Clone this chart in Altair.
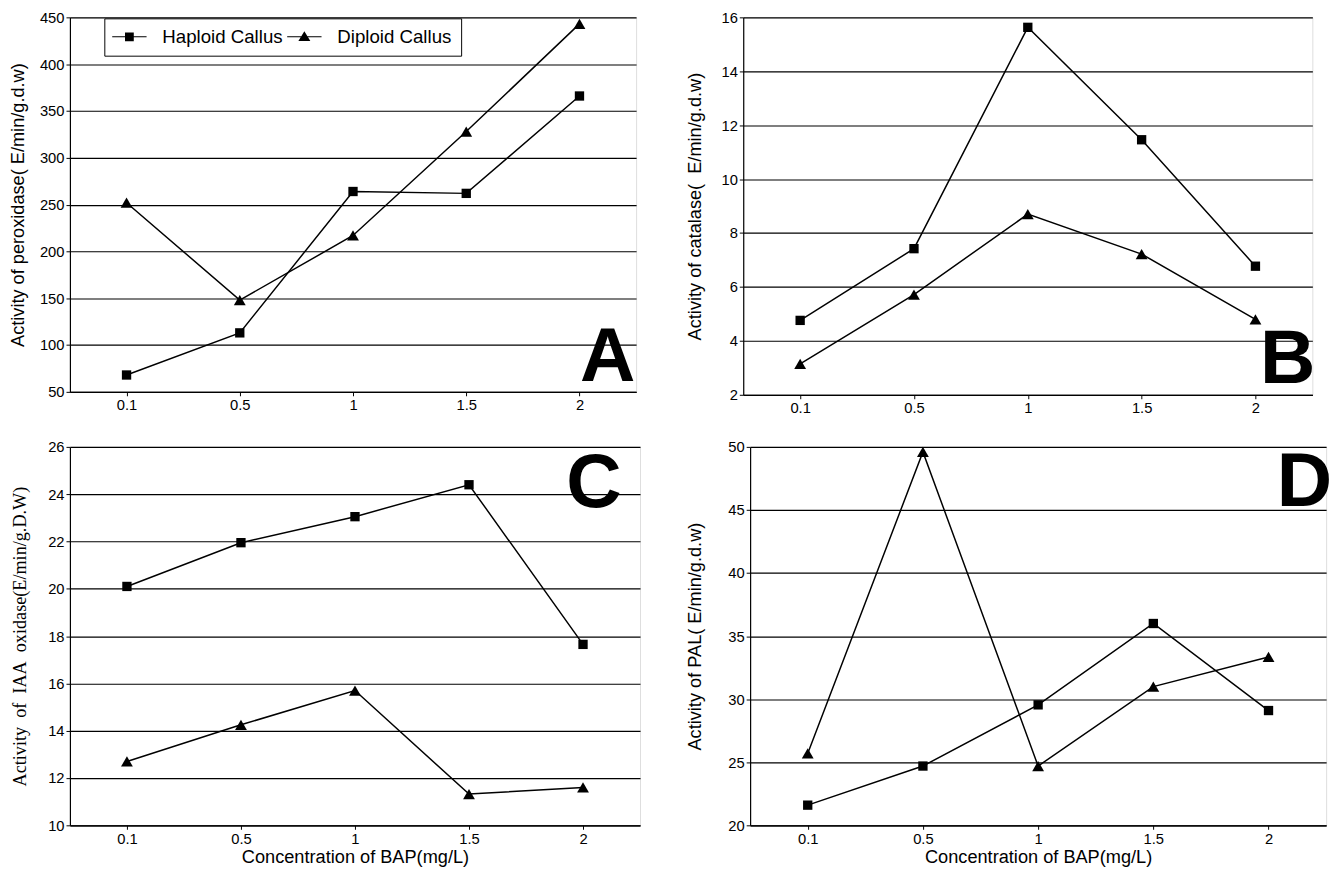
import altair as alt
import pandas as pd

conc = ["0.1", "0.5", "1", "1.5", "2"]
series_names = ["Haploid Callus", "Diploid Callus"]

a_hap = [68, 113, 264, 262, 366]
a_dip = [252, 148, 217, 328, 443]
b_hap = [4.76, 7.42, 15.63, 11.46, 6.77]
b_dip = [3.15, 5.72, 8.7, 7.22, 4.8]
c_hap = [20.1, 21.95, 23.05, 24.4, 17.65]
c_dip = [12.7, 14.25, 15.7, 11.32, 11.6]
d_hap = [21.6, 24.7, 29.55, 36.0, 29.1]
d_dip = [25.7, 49.6, 24.7, 31.0, 33.35]

a_ticks = [50, 100, 150, 200, 250, 300, 350, 400, 450]
b_ticks = [2, 4, 6, 8, 10, 12, 14, 16]
c_ticks = [10, 12, 14, 16, 18, 20, 22, 24, 26]
d_ticks = [20, 25, 30, 35, 40, 45, 50]

a_title = "Activity of peroxidase( E/min/g.d.w)"
b_title = "Activity of catalase(\u00a0 E/min/g.d.w)"
c_title = "Activity\u00a0 of\u00a0 IAA\u00a0 oxidase(E/min/g.D.W)"
d_title = "Activity of PAL( E/min/g.d.w)"
x_title = "Concentration of BAP(mg/L)"

SANS = "Liberation Sans"
SERIF = "Liberation Serif"

# legend symbols: a short line through the marker (unit = sqrt(size)/2 px)
legend_paths = [
    "M-1.84,-0.065H1.84V0.065H-1.84ZM-0.47,-0.47H0.47V0.47H-0.47Z",
    "M-1.84,-0.065H1.84V0.065H-1.84ZM0,-0.58L0.64,0.46H-0.64Z",
]


def panel(hap, dip, ytitle, ticks, letter, lx, ly, width, height,
          xtitle=None, legend=False, title_font=SANS, tpad=17):
    df = pd.DataFrame({
        "conc": conc + conc,
        "value": hap + dip,
        "series": [series_names[0]] * len(conc) + [series_names[1]] * len(conc),
    })
    x_axis = alt.Axis(labelAngle=0, grid=False, tickSize=4, tickColor="black",
                      domainColor="black", domainWidth=1.2, labelColor="black",
                      labelFont=SANS, labelFontSize=15, labelPadding=2,
                      titleFont=SANS, titleFontSize=18.5, titleFontWeight="normal",
                      titleColor="black", titlePadding=2,
                      title=xtitle if xtitle else None)
    y_axis = alt.Axis(values=ticks, grid=True, gridColor="black", gridWidth=1.2,
                      gridOpacity=1, tickSize=4, tickColor="black",
                      domainColor="black", domainWidth=1.2, labelColor="black",
                      labelFont=SANS, labelFontSize=15, labelPadding=2,
                      titleFont=title_font, titleFontSize=18.5,
                      titleFontWeight="normal", titleColor="black",
                      titlePadding=tpad, title=ytitle)
    x = alt.X("conc:O", sort=conc,
              scale=alt.Scale(type="point", padding=0.5, domain=conc), axis=x_axis)
    y = alt.Y("value:Q", scale=alt.Scale(domain=[ticks[0], ticks[-1]], nice=False,
                                         zero=False), axis=y_axis)
    base = alt.Chart(df)
    lines = base.mark_line(color="black", strokeWidth=1.5).encode(
        x=x, y=y, detail="series:N")
    hap_pts = base.transform_filter(
        alt.datum.series == series_names[0]
    ).mark_point(shape="square", filled=True, color="black", size=90,
                 opacity=1).encode(x=x, y=y)
    dip_pts = base.transform_filter(
        alt.datum.series == series_names[1]
    ).mark_point(shape="triangle-up", filled=True, color="black", size=145,
                 opacity=1).encode(x=x, y=y)
    label_df = pd.DataFrame({"label": [letter]})
    letter_mark = alt.Chart(label_df).mark_text(
        font=SANS, fontWeight="bold",
        fontSize=78, color="black", align="center", baseline="alphabetic"
    ).encode(x=alt.value(lx), y=alt.value(ly), text="label:N")
    layers = [lines, hap_pts, dip_pts, letter_mark]
    if legend:
        leg = base.mark_point(filled=True, color="black", opacity=0, size=1).encode(
            x=x, y=y,
            shape=alt.Shape("series:N",
                            scale=alt.Scale(domain=series_names, range=legend_paths),
                            legend=alt.Legend(
                                orient="none", legendX=35, legendY=1,
                                direction="horizontal", title=None,
                                strokeColor="black", fillColor="white", padding=9,
                                labelFont=SANS, labelFontSize=19, labelColor="black",
                                labelOffset=24, columnPadding=4,
                                symbolOffset=7,
                                symbolSize=361, symbolStrokeWidth=0,
                                symbolFillColor="black", symbolOpacity=1,
                            )))
        layers.append(leg)
    return alt.layer(*layers).properties(width=width, height=height)


pa = panel(a_hap, a_dip, a_title, a_ticks, "A", 576 - 29, 381 - 11, 576, 381,
           legend=True, tpad=12)
pb = panel(b_hap, b_dip, b_title, b_ticks, "B", 579 - 25, 384 - 12, 579, 384)
pc = panel(c_hap, c_dip, c_title, c_ticks, "C", 580 - 47, 61, 580, 385,
           xtitle=x_title, title_font=SERIF, tpad=19)
pd_ = panel(d_hap, d_dip, d_title, d_ticks, "D", 586 - 22, 60, 586, 385,
            xtitle=x_title, tpad=24)

chart = alt.concat(pa, pb, pc, pd_, columns=2, align="none",
                   spacing={"row": 23, "column": 44},
                   padding={"top": -6, "left": 0, "right": 0, "bottom": 0}).configure_view(
    stroke="black", strokeWidth=1.2
).configure(background="white")

chart.save("out.html", embed_options={"renderer": "svg", "actions": False})
